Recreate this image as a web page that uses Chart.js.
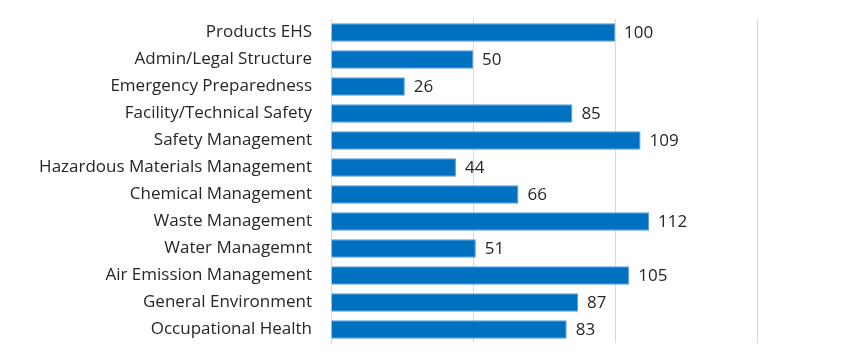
<!DOCTYPE html>
<html><head><meta charset="utf-8">
<script src="https://cdn.jsdelivr.net/npm/chart.js@4/dist/chart.umd.min.js"></script>
<style>html,body{margin:0;padding:0;background:#fff}#w{width:859px;height:362px}</style>
</head><body><div id="w"><canvas id="c" width="859" height="362"></canvas></div>
<script>
const categories = ["Products EHS","Admin/Legal Structure","Emergency Preparedness","Facility/Technical Safety","Safety Management","Hazardous Materials Management","Chemical Management","Waste Management","Water Managemnt","Air Emission Management","General Environment","Occupational Health"];
const values = [100,50,26,85,109,44,66,112,51,105,87,83];
const xTicks = [0,50,100,150];

const FONT = "'Open Sans', Lato, sans-serif";
const FS = 17;
const labelPlugin = {
  id:'barLabels',
  afterDatasetsDraw(chart){
    const ctx = chart.ctx;
    const meta = chart.getDatasetMeta(0);
    ctx.save();
    ctx.font = FS + "px " + FONT;
    ctx.fillStyle = "#262626";
    ctx.textAlign = "left";
    ctx.textBaseline = "middle";
    meta.data.forEach((bar,i)=>{
      ctx.fillText(String(values[i]), bar.x + 9, bar.y + 1);
    });
    ctx.restore();
  }
};

new Chart(document.getElementById('c'), {
  type:'bar',
  data:{labels:categories, datasets:[{data:values, backgroundColor:'#0070C0', borderColor:'#5B9BD5', borderWidth:1, barPercentage:0.68, categoryPercentage:1}]},
  options:{
    indexAxis:'y', responsive:false, animation:false,
    layout:{padding:{left:0,right:102,top:19,bottom:19}},
    plugins:{legend:{display:false}, tooltip:{enabled:false}},
    scales:{
      x:{min:0,max:150, afterBuildTicks(s){s.ticks = xTicks.map(v=>({value:v}));},
         ticks:{display:false}, grid:{color:'#d9d9d9', lineWidth:1, drawTicks:false}, border:{display:false}},
      y:{afterFit(s){s.width = 331; s.paddingTop = 0; s.paddingBottom = 0;},
         ticks:{font:{family:FONT,size:FS}, color:'#262626', padding:19, autoSkip:false},
         grid:{display:false, drawTicks:false}, border:{display:true, color:'#d9d9d9', width:1}}
    }
  },
  plugins:[labelPlugin]
});
</script></body></html>
